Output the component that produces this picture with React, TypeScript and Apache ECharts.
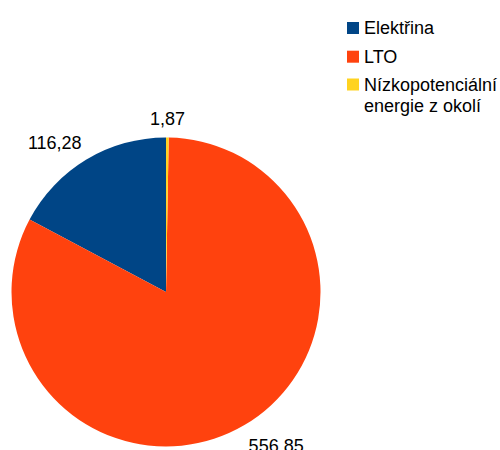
import React, { useEffect, useRef } from "react";
import * as echarts from "echarts";

const categories = ["Elektřina", "LTO", "Nízkopotenciální energie z okolí"];
const values = [116.28, 556.85, 1.87];
const colors = ["#004586", "#ff420e", "#ffd320"];
const legendLabels: Record<string, string> = {
  "Elektřina": "Elektřina",
  "LTO": "LTO",
  "Nízkopotenciální energie z okolí": "Nízkopotenciální\nenergie z okolí",
};

const FONT = "'Liberation Sans', Arial, sans-serif";

export default function App() {
  const ref = useRef<HTMLDivElement>(null);
  useEffect(() => {
    document.body.style.margin = "0";
    if (!ref.current) return;
    const chart = echarts.init(ref.current, null, { renderer: "svg" });
    const textStyle = { fontFamily: FONT, fontSize: 18, color: "#000", lineHeight: 21 };
    const legendCommon = {
      orient: "vertical" as const,
      left: 342,
      itemWidth: 12,
      itemGap: 7.7,
      selectedMode: false,
      formatter: (name: string) => legendLabels[name] ?? name,
      textStyle,
    };
    chart.setOption({
      animation: false,
      backgroundColor: "#ffffff",
      color: colors,
      legend: [
        {
          ...legendCommon,
          top: 12.5,
          itemHeight: 12,
          icon: "rect",
          data: categories.slice(0, 2),
        },
        {
          ...legendCommon,
          top: 69,
          itemHeight: 33,
          icon: "path://M0,0H12V12H0ZM0,33H0.01",
          data: categories.slice(2),
        },
      ],
      series: [
        {
          type: "pie",
          center: [166, 292],
          radius: 154.5,
          startAngle: 90,
          clockwise: false,
          avoidLabelOverlap: false,
          data: categories.map((name, i) => {
            const item: any = { name, value: values[i] };
            if (i === 1) {
              item.label = { distanceToLabelLine: -8 };
              item.labelLine = { show: false, length: 24, length2: 0 };
            }
            if (i === 2) {
              item.label = { distanceToLabelLine: 0 };
            }
            return item;
          }),
          itemStyle: { borderWidth: 0 },
          emphasis: { disabled: true },
          label: {
            show: true,
            position: "outside",
            fontFamily: FONT,
            fontSize: 18,
            color: "#000",
            distanceToLabelLine: -5,
            formatter: (p: any) => p.value.toFixed(2).replace(".", ","),
          },
          labelLine: { show: false, length: 19, length2: 0 },
          labelLayout: (p: any) => (p.dataIndex === 2 ? { align: "center" } : {}),
        },
      ],
    });
    return () => chart.dispose();
  }, []);
  return <div ref={ref} style={{ width: 500, height: 450 }} />;
}
